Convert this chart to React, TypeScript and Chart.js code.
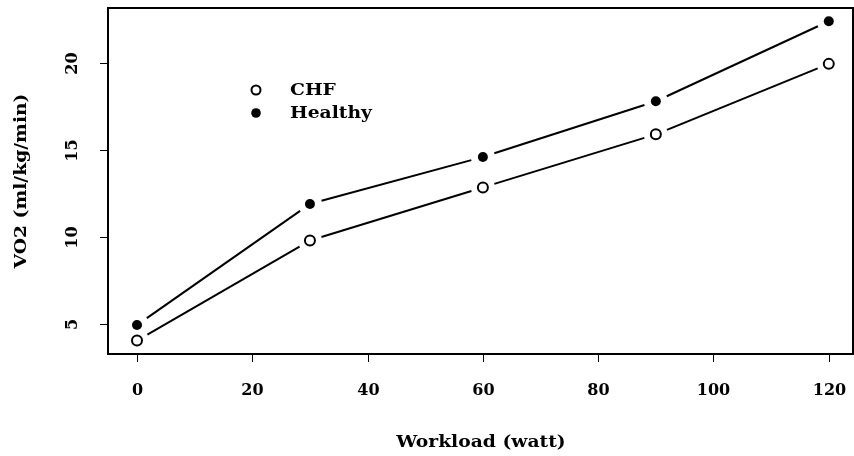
import React, { useEffect, useRef } from "react";
import { Chart, registerables } from "chart.js";

Chart.register(...registerables);

const workload = [0, 30, 60, 90, 120];
const chfVO2 = [4.05, 9.8, 12.85, 15.9, 19.95];
const healthyVO2 = [4.95, 11.9, 14.6, 17.8, 22.4];
const xTicks = [0, 20, 40, 60, 80, 100, 120];
const yTicks = [5, 10, 15, 20];
const seriesNames = ["CHF", "Healthy"];
const xTitle = "Workload (watt)";
const yTitle = "VO2 (ml/kg/min)";

const FONT = "bold 16px 'DejaVu Serif', serif";
const STRETCH = 1.17;
const GAP = 12;

// Text drawn slightly widened, in the manner of an extended bold serif.
function wideText(ctx: CanvasRenderingContext2D, s: string, x: number, y: number, rot = 0, align: CanvasTextAlign = "center") {
  ctx.save();
  ctx.translate(x, y);
  ctx.rotate(rot);
  ctx.scale(STRETCH, 1);
  ctx.textAlign = align;
  ctx.fillText(s, 0, 0);
  ctx.restore();
}

// Draws the framed axes, tick labels, titles, legend and the gapped "both" style lines.
const basePlot = {
  id: "basePlot",
  beforeDatasetsDraw(chart: any) {
    const { ctx, chartArea: a, scales } = chart;
    const xs = scales.x;
    const ys = scales.y;
    ctx.save();
    ctx.strokeStyle = "#000";
    ctx.fillStyle = "#000";

    // connecting segments with gaps around each point
    ctx.lineWidth = 2;
    chart.data.datasets.forEach((ds: any) => {
      const pts = ds.data.map((p: any) => [xs.getPixelForValue(p.x), ys.getPixelForValue(p.y)]);
      for (let i = 0; i < pts.length - 1; i++) {
        const [x0, y0] = pts[i];
        const [x1, y1] = pts[i + 1];
        const d = Math.hypot(x1 - x0, y1 - y0);
        if (d <= 2 * GAP) continue;
        const ux = (x1 - x0) / d;
        const uy = (y1 - y0) / d;
        ctx.beginPath();
        ctx.moveTo(x0 + ux * GAP, y0 + uy * GAP);
        ctx.lineTo(x1 - ux * GAP, y1 - uy * GAP);
        ctx.stroke();
      }
    });

    // frame
    ctx.lineWidth = 2;
    ctx.strokeRect(a.left, a.top, a.right - a.left, a.bottom - a.top);

    // ticks
    ctx.lineWidth = 1;
    ctx.font = FONT;
    ctx.textAlign = "center";
    ctx.textBaseline = "middle";
    xTicks.forEach((t) => {
      const px = Math.round(xs.getPixelForValue(t)) + 0.5;
      ctx.beginPath();
      ctx.moveTo(px, a.bottom);
      ctx.lineTo(px, a.bottom + 8);
      ctx.stroke();
      ctx.fillText(String(t), px, a.bottom + 37);
    });
    yTicks.forEach((t) => {
      const py = Math.round(ys.getPixelForValue(t)) + 0.5;
      ctx.beginPath();
      ctx.moveTo(a.left, py);
      ctx.lineTo(a.left - 8, py);
      ctx.stroke();
      ctx.save();
      ctx.translate(a.left - 35, py);
      ctx.rotate(-Math.PI / 2);
      ctx.fillText(String(t), 0, 0);
      ctx.restore();
    });

    // axis titles
    wideText(ctx, xTitle, 481, a.bottom + 89);
    wideText(ctx, yTitle, a.left - 86, (a.top + a.bottom) / 2, -Math.PI / 2);

    // legend
    const lx = 256;
    const ly = [90, 113];
    ctx.lineWidth = 2;
    ctx.beginPath();
    ctx.arc(lx, ly[0], 4.5, 0, Math.PI * 2);
    ctx.fillStyle = "#fff";
    ctx.fill();
    ctx.stroke();
    ctx.fillStyle = "#000";
    ctx.beginPath();
    ctx.arc(lx, ly[1], 4.8, 0, Math.PI * 2);
    ctx.fill();
    wideText(ctx, seriesNames[0], 290, ly[0] + 1, 0, "left");
    wideText(ctx, seriesNames[1], 290, ly[1] + 1, 0, "left");
    ctx.restore();
  },
};

export default function App() {
  const ref = useRef<HTMLCanvasElement>(null);
  useEffect(() => {
    const chart = new Chart(ref.current!, {
      type: "scatter",
      data: {
        datasets: [
          {
            label: seriesNames[0],
            data: workload.map((x, i) => ({ x, y: chfVO2[i] })),
            showLine: false,
            pointRadius: 5,
            pointBorderWidth: 2,
            pointBorderColor: "#000",
            pointBackgroundColor: "#fff",
          },
          {
            label: seriesNames[1],
            data: workload.map((x, i) => ({ x, y: healthyVO2[i] })),
            showLine: false,
            pointRadius: 5,
            pointBorderWidth: 0,
            pointBorderColor: "#000",
            pointBackgroundColor: "#000",
          },
        ],
      },
      options: {
        animation: false,
        responsive: false,
        events: [],
        layout: { autoPadding: false, padding: { left: 108, top: 8, right: 1, bottom: 102 } },
        plugins: { legend: { display: false }, tooltip: { enabled: false } },
        scales: {
          x: { type: "linear", min: -5.03, max: 124.2, display: false },
          y: { type: "linear", min: 3.28, max: 23.16, display: false },
        },
      },
      plugins: [basePlot],
    });
    return () => chart.destroy();
  }, []);
  return (
    <div style={{ position: "absolute", left: 0, top: 0, width: 854, height: 456, background: "#fff" }}>
      <canvas ref={ref} width={854} height={456} />
    </div>
  );
}
